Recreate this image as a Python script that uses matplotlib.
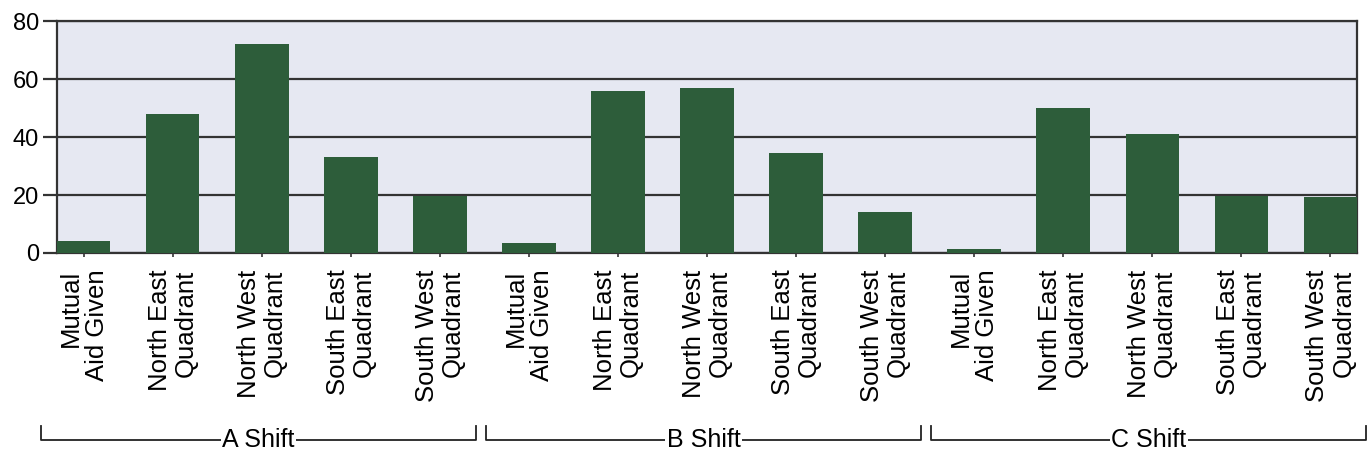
import matplotlib.pyplot as plt
import matplotlib.transforms as mtransforms
import numpy as np

categories = ["Mutual\nAid Given", "North East\nQuadrant", "North West\nQuadrant",
              "South East\nQuadrant", "South West\nQuadrant"]
shifts = ["A Shift", "B Shift", "C Shift"]
a_shift = [4, 48, 72, 33, 19.5]
b_shift = [3.5, 56, 57, 34.5, 14]
c_shift = [1.3, 50, 41, 19.7, 19.2]
y_ticks = [0, 20, 40, 60, 80]

bar_color = "#2d5d3a"
bg_color = "#e6e8f2"

plt.rcParams["font.family"] = ["Liberation Sans", "DejaVu Sans"]


def main():
    values = a_shift + b_shift + c_shift
    labels = categories * len(shifts)
    x = np.arange(len(values))

    fig = plt.figure(figsize=(13.71, 4.57), dpi=100)
    ax = fig.add_axes([0.0416, 0.4464, 0.9482, 0.5076])
    ax.set_facecolor(bg_color)
    ax.bar(x, values, width=0.6, color=bar_color, zorder=3)

    ax.set_xlim(-0.3, len(values) - 0.7)
    ax.set_ylim(0, 80)
    ax.set_yticks(y_ticks)
    ax.yaxis.grid(True, color="#333333", linewidth=1.6, zorder=1)
    ax.tick_params(axis="y", length=10, width=1.6, color="#333333", labelsize=17, pad=3)
    ax.set_xticks(x)
    ax.set_xticklabels(labels, rotation=90, fontsize=18.5, multialignment="right",
                       va="top", linespacing=1.1)
    ax.tick_params(axis="x", length=3, width=1.2, color="#333333", pad=9)

    for side in ["left", "top", "bottom", "right"]:
        ax.spines[side].set_color("#333333")
        ax.spines[side].set_linewidth(1.6)

    # group brackets under the labels
    trans = mtransforms.blended_transform_factory(ax.transData, ax.transAxes)
    y_line = -0.805
    y_top = -0.745
    for g, name in enumerate(shifts):
        x0 = g * 5 - 0.48
        x1 = g * 5 + 4.4
        ax.plot([x0, x0, x1, x1], [y_top, y_line, y_line, y_top], color="#222222",
                linewidth=1.3, transform=trans, clip_on=False)
        ax.text((x0 + x1) / 2, y_line, name, transform=trans, ha="center", va="center",
                fontsize=18, bbox=dict(facecolor="white", edgecolor="none", pad=1))

    fig.savefig("out.png", dpi=100)


if __name__ == "__main__":
    main()
